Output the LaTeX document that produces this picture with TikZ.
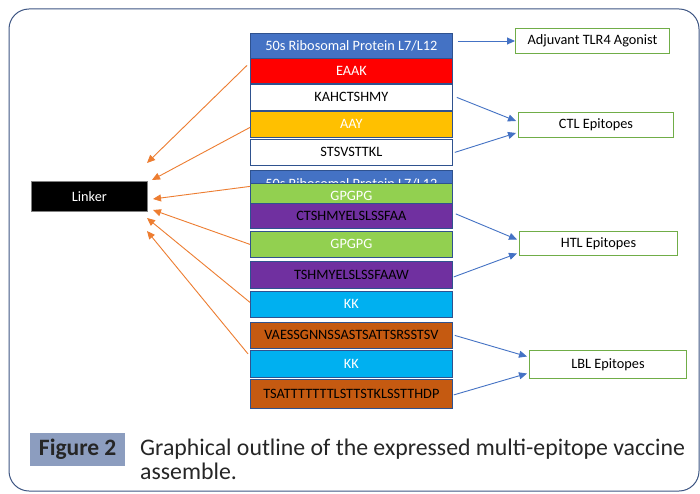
\documentclass[tikz,border=0pt]{standalone}
\usepackage{fontspec}
\setmainfont{Carlito}
\usetikzlibrary{arrows.meta,calc}
\definecolor{ribblue}{HTML}{4472C4}
\definecolor{segborder}{HTML}{2F528F}
\definecolor{eaakred}{HTML}{FF0000}
\definecolor{aayyellow}{HTML}{FFC000}
\definecolor{gpgreen}{HTML}{92D050}
\definecolor{htlpurple}{HTML}{7030A0}
\definecolor{kkcyan}{HTML}{00B0F0}
\definecolor{lblbrown}{HTML}{C55A11}
\definecolor{epigreen}{HTML}{70AD47}
\definecolor{linkorange}{HTML}{ED7D31}
\definecolor{framec}{HTML}{3E5683}
\definecolor{figbox}{HTML}{8C9DBF}
\tikzset{
  segbox/.style={draw=segborder, line width=0.8pt, minimum width=202pt, inner sep=0pt,
    anchor=north west, font=\fontsize{14.3}{16}\selectfont},
  epibox/.style={draw=epigreen, line width=1pt, fill=white, inner sep=0pt,
    anchor=north west, font=\fontsize{14.3}{16}\selectfont},
  orangearrow/.style={draw=linkorange, line width=0.9pt, -{Triangle[length=8pt,width=7pt]}},
  bluearrow/.style={draw=ribblue, line width=0.9pt, -{Triangle[length=8pt,width=7pt]}}
}
\begin{document}
\begin{tikzpicture}[x=1pt,y=-1pt]
\useasboundingbox (0,0) rectangle (700,494);
\fill[white] (0,0) rectangle (700,494);
\draw[framec, line width=1pt, rounded corners=20pt] (9,9) rectangle (699,491);

% segments
\node[segbox, fill=ribblue, text=white, minimum height=25pt] (rib1) at (250,33) {50s Ribosomal Protein L7/L12};
\node[segbox, fill=eaakred, text=white, minimum height=25pt] (eaak) at (250,58) {EAAK};
\node[segbox, fill=white, text=black, minimum height=26pt] (kah) at (250,84) {KAHCTSHMY};
\node[segbox, fill=aayyellow, text=white, minimum height=26pt] (aay) at (250,111) {AAY};
\node[segbox, fill=white, text=black, minimum height=26pt] (sts) at (250,139) {STSVSTTKL};
\node[segbox, fill=ribblue, text=white, minimum height=26pt] (rib2) at (250,170) {50s Ribosomal Protein L7/L12};
\node[segbox, fill=gpgreen, text=white, minimum height=26pt] (gp1) at (250,183) {GPGPG};
\node[segbox, fill=htlpurple, text=black, minimum height=25pt] (ctsh) at (250,203) {CTSHMYELSLSSFAA};
\node[segbox, fill=gpgreen, text=white, minimum height=26pt] (gp2) at (250,231) {GPGPG};
\node[segbox, fill=htlpurple, text=black, minimum height=27pt] (tshm) at (250,261) {TSHMYELSLSSFAAW};
\node[segbox, fill=kkcyan, text=white, minimum height=26pt] (kk1) at (250,291) {KK};
\node[segbox, fill=lblbrown, text=black, minimum height=26pt] (vae) at (250,322) {VAESSGNNSSASTSATTSRSSTSV};
\node[segbox, fill=kkcyan, text=white, minimum height=27pt] (kk2) at (250,350) {KK};
\node[segbox, fill=lblbrown, text=black, minimum height=29pt] (tsat) at (250,379) {TSATTTTTTTLSTTSTKLSSTTHDP};

% linker
\node[draw=gray, line width=0.8pt, fill=black, text=white, minimum width=116pt, minimum height=30pt,
  inner sep=0pt, anchor=north west, font=\fontsize{14.3}{16}\selectfont] (linker) at (31,181) {Linker};

% right boxes
\node[epibox, minimum width=154pt, minimum height=25pt] (adj) at (515,28) {Adjuvant TLR4 Agonist};
\node[epibox, minimum width=155pt, minimum height=25pt] (ctl) at (518,112) {\raisebox{-2pt}{CTL Epitopes}};
\node[epibox, minimum width=158pt, minimum height=24pt] (htl) at (519,231) {\raisebox{-2pt}{HTL Epitopes}};
\node[epibox, minimum width=157pt, minimum height=28pt] (lbl) at (529,350) {LBL Epitopes};

% linker arrow tips
\coordinate (t1) at (147,163);
\coordinate (t2) at (152,180);
\coordinate (t3) at (153,199);
\coordinate (t4) at (153,210);
\coordinate (t5) at (147,218);
\coordinate (t6) at (147,231);

\draw[orangearrow] ([xshift=-3pt,yshift=5.5pt]eaak.west) -- (t1);
\draw[orangearrow] ([yshift=-3pt]aay.west) -- (t2);
\draw[orangearrow] ([yshift=-3pt]rib2.west) -- (t3);
\draw[orangearrow] (gp2.west) -- (t4);
\draw[orangearrow] ([yshift=2pt]kk1.west) -- (t5);
\draw[orangearrow] ([xshift=-2pt,yshift=10pt]kk2.west) -- (t6);

% blue arrows
\draw[bluearrow] ([xshift=5pt]rib1.east |- adj.west) -- (adj.west);
\draw[bluearrow] ([xshift=4pt]kah.east) -- ([xshift=-2pt,yshift=4pt]ctl.west);
\draw[bluearrow] ([xshift=2pt]sts.east) -- ([xshift=-2pt,yshift=-8pt]ctl.west);
\draw[bluearrow] ([xshift=3pt,yshift=2pt]ctsh.east) -- ([xshift=-2pt,yshift=4pt]htl.west);
\draw[bluearrow] ([xshift=1pt,yshift=-2pt]tshm.east) -- ([xshift=-2pt,yshift=-10pt]htl.west);
\draw[bluearrow] ([xshift=2pt]vae.east) -- ([xshift=-2pt,yshift=8pt]lbl.west);
\draw[bluearrow] ([xshift=1pt,yshift=-1pt]tsat.east) -- ([xshift=-2pt,yshift=-9pt]lbl.west);

% caption
\node[fill=figbox, text=black!85, minimum width=95pt, minimum height=33pt, inner sep=0pt,
  anchor=north west, font=\fontsize{23.5}{24}\selectfont\bfseries] (fig) at (30,433) {Figure 2};
\node[anchor=north west, align=left, inner sep=0pt, text=black!85,
  font=\fontsize{23.8}{24}\selectfont] (cap) at (140,439) {Graphical outline of the expressed multi-epitope vaccine\\assemble.};
\end{tikzpicture}
\end{document}
